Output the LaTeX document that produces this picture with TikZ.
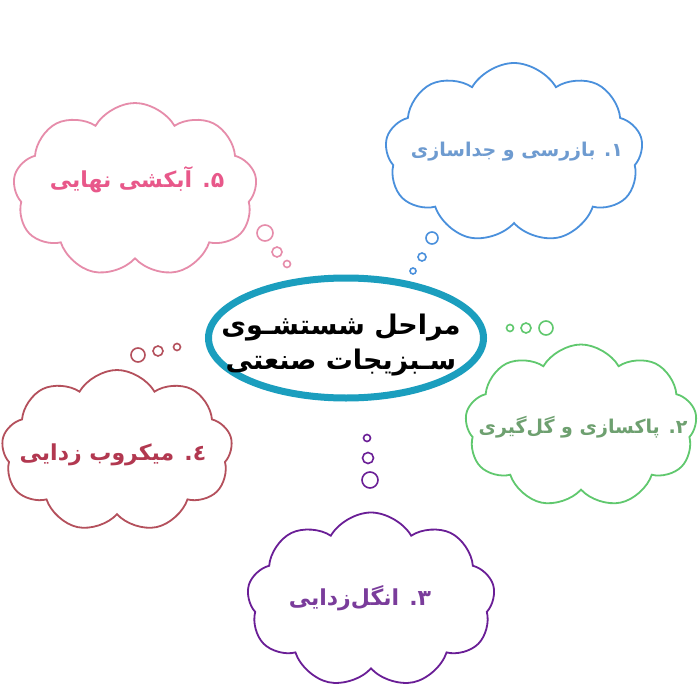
\documentclass[tikz,border=0pt]{standalone}
\usepackage{fontspec}
\usetikzlibrary{shapes.symbols,shapes.geometric}
\newfontfamily\arabicfont[Script=Arabic]{DejaVu Sans}
\TeXXeTstate=1
\definecolor{ringteal}{RGB}{27,158,190}
\definecolor{bluedraw}{RGB}{74,144,220}
\definecolor{bluetext}{RGB}{110,155,208}
\definecolor{greendraw}{RGB}{96,200,110}
\definecolor{greentext}{RGB}{110,160,112}
\definecolor{purpledraw}{RGB}{106,30,150}
\definecolor{purpletext}{RGB}{122,60,155}
\definecolor{reddraw}{RGB}{180,80,92}
\definecolor{redtext}{RGB}{178,56,80}
\definecolor{pinkdraw}{RGB}{230,140,170}
\definecolor{pinktext}{RGB}{232,88,138}
\tikzset{
	cloudbox/.style={cloud, cloud puffs=9, cloud puff arc=120, draw=#1, line width=1.8pt, inner sep=0pt},
	steplabel/.style={text=#1, font=\arabicfont\bfseries\fontsize{22}{26}\selectfont},
	bubble/.style={draw=#1, line width=1.6pt}
}
\begin{document}
\begin{tikzpicture}[x=1pt,y=-1pt]
			\useasboundingbox[fill=white] (0,0) rectangle (700,700);
			\node[cloudbox=bluedraw, minimum width=258pt, minimum height=180pt] (c1) at (514,153) {};
			\node[cloudbox=greendraw, minimum width=232pt, minimum height=163pt] (c2) at (581,426) {};
			\node[cloudbox=purpledraw, minimum width=248pt, minimum height=175pt] (c3) at (371,600) {};
			\node[cloudbox=reddraw, minimum width=231pt, minimum height=162pt] (c4) at (117,451) {};
			\node[cloudbox=pinkdraw, minimum width=244pt, minimum height=174pt] (c5) at (135,190) {};
			\node[steplabel=bluetext, font=\arabicfont\bfseries\fontsize{19}{24}\selectfont] (t1) at (517,152) {\beginR ۱. بازرسی و جداسازی\endR};
			\node[steplabel=greentext, font=\arabicfont\bfseries\fontsize{19}{24}\selectfont] (t2) at (583,427) {\beginR ۲. پاکسازی و گل‌گیری\endR};
			\node[steplabel=purpletext] (t3) at (360,598) {\beginR ۳. انگل‌زدایی\endR};
			\node[steplabel=redtext] (t4) at (113,455) {\beginR ٤. میکروب زدایی\endR};
			\node[steplabel=pinktext] (t5) at (137,180) {\beginR ۵. آبکشی نهایی\endR};
			\foreach \x/\y/\r in {432/238/6, 422/257/4, 413/271/3}
				\draw[bubble=bluedraw] (\x,\y) circle (\r);
			\foreach \x/\y/\r in {510/328/3.5, 526/328/5, 546/328/7}
				\draw[bubble=greendraw] (\x,\y) circle (\r);
			\foreach \x/\y/\r in {367/438/3.5, 368/458/5.5, 370/480/8}
				\draw[bubble=purpledraw] (\x,\y) circle (\r);
			\foreach \x/\y/\r in {138/355/7, 158/351/5, 177/347/3.5}
				\draw[bubble=reddraw] (\x,\y) circle (\r);
			\foreach \x/\y/\r in {265/233/8, 277/252/5, 287/264/3.5}
				\draw[bubble=pinkdraw] (\x,\y) circle (\r);
			\node[ellipse, draw=ringteal, line width=7pt, fill=white, inner sep=0pt, minimum width=275pt, minimum height=120pt] (ring) at (346,338) {};
			\node[align=center, font=\arabicfont\bfseries\fontsize{27}{35}\selectfont] (main) at (341,345) {\beginR مراحل شستشـوی\endR\\\beginR سـبزیجات صنعتی\endR};
\end{tikzpicture}
\end{document}
